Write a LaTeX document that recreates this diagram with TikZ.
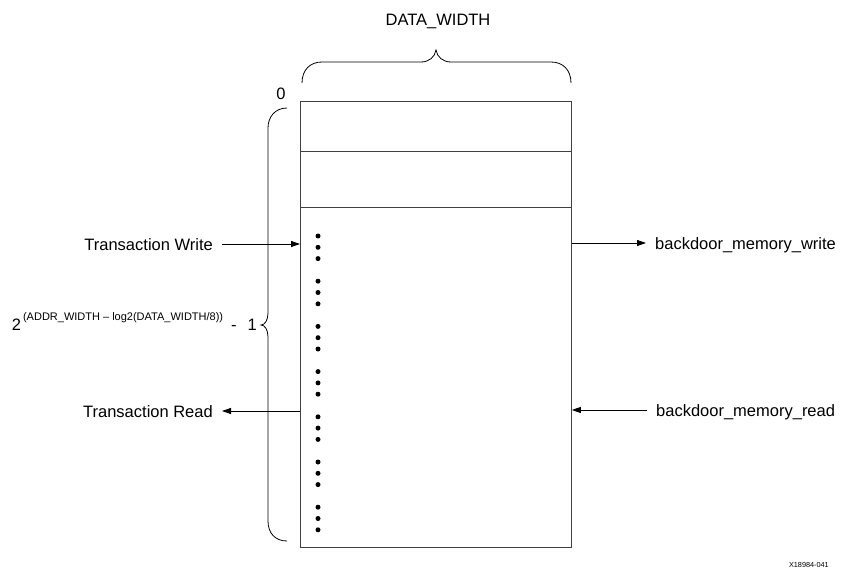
\documentclass[tikz,border=0pt]{standalone}
\usepackage{fontspec}
\setmainfont{Liberation Sans}
\usetikzlibrary{arrows.meta}

\tikzset{
  lbl/.style={font=\fontsize{16.5}{20}\selectfont, text height=12pt, text depth=0pt, inner ysep=0pt, inner xsep=9pt},
  arr/.style={line width=0.8pt, -{Triangle[length=9pt, width=6pt]}},
  memline/.style={line width=0.8pt, draw=black!75},
}

\begin{document}
\begin{tikzpicture}[x=1pt, y=-1pt]
    \useasboundingbox (0,0) rectangle (841,575);
        % memory array
        \node (mem) [memline, draw, minimum width=271pt, minimum height=446pt, inner sep=0pt, anchor=north west] at (300,101) {};
        \draw[memline] (mem.north west) ++(0,50) -- ++(271,0);
        \draw[memline] (mem.north west) ++(0,106) -- ++(271,0);
        \foreach \g in {0,...,6}
            \foreach \d in {0,1,2}
                \fill (318, {236+45.2*\g+11.3*\d}) circle (2.5pt);
        % width brace
        \draw[line width=0.8pt] (302,83) .. controls (302,70) and (310,62) .. (322,62) -- (421,62)
            .. controls (429,62) and (435,57) .. (436,50) .. controls (437,57) and (443,62) .. (451,62)
            -- (551,62) .. controls (563,62) and (571,70) .. (571,83);
        \node (dw) [lbl, anchor=base] at (438,26) {DATA\_WIDTH};
        % depth brace
        \draw[line width=0.8pt] (287,108) .. controls (275,108) and (268,117) .. (268,128) -- (268,313)
            .. controls (268,320) and (265,325) .. (261,325) .. controls (265,325) and (268,330) .. (268,337)
            -- (268,521) .. controls (268,533) and (275,541) .. (287,541);
        \node (zero) [lbl, inner xsep=0pt, anchor=base] at (281,100) {0};
        \node (addr) [inner sep=0pt, anchor=base east, font=\fontsize{16.5}{20}\selectfont] at (257,330)
            {2\hspace{2pt}\raisebox{10pt}{\fontsize{11}{12}\selectfont (ADDR\_WIDTH – log2(DATA\_WIDTH/8))}\hspace{8pt}-\hspace{11pt}1};
        % ports
        \node (twr) [lbl, anchor=east] at (222,244) {Transaction Write};
        \node (trd) [lbl, anchor=east] at (222,411) {Transaction Read};
        \node (bwr) [lbl, anchor=west] at (646,243) {backdoor\_memory\_write};
        \node (brd) [lbl, anchor=west] at (647,410) {backdoor\_memory\_read};
        \draw[arr] (twr) -- (twr -| mem.west);
        \draw[arr] (trd -| mem.west) -- (trd);
        \draw[arr] (bwr -| mem.east) -- (bwr);
        \draw[arr] (brd) -- (brd -| mem.east);
        \node (fig) [inner sep=0pt, anchor=base east, font=\fontsize{7.3}{9}\selectfont] at (829,567) {X18984-041};
    \end{tikzpicture}
\end{document}
